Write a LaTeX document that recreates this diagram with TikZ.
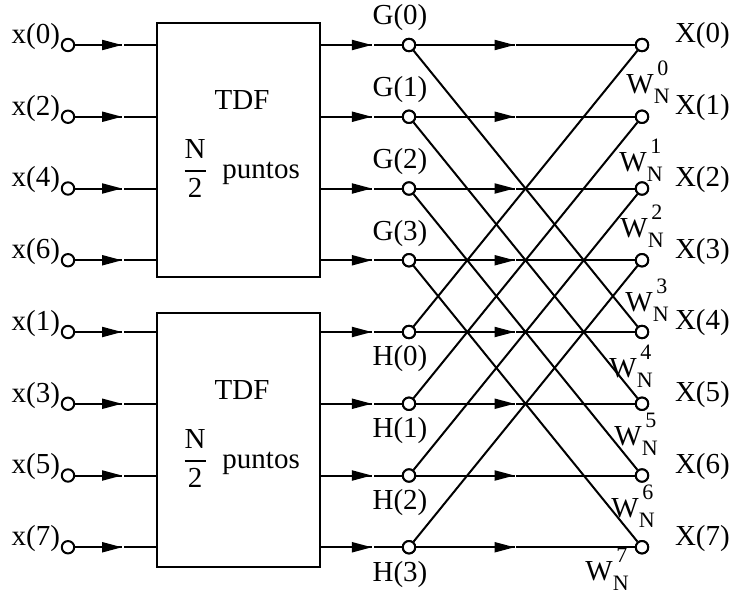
\documentclass[tikz,border=0pt]{standalone}
\usepackage{amsmath}
\usepackage{fontspec}
\setmainfont{Liberation Serif}
\usetikzlibrary{arrows.meta,decorations.markings}
\newcommand{\Wn}[1]{W\rlap{\raisebox{1.4ex}{\fontsize{11}{12}\selectfont\,#1}}\raisebox{-0.7ex}{\fontsize{11}{12}\selectfont N}}
\begin{document}
\begin{tikzpicture}[x=0.5pt,y=-0.5pt, line width=1pt,
  font=\fontsize{14.5}{17}\selectfont,
  dot/.style={circle,draw,fill=white,inner sep=0pt,minimum size=6.2pt},
  blk/.style={draw,minimum width=81.5pt,minimum height=127pt,inner sep=0pt},
  lbl/.style={inner sep=0pt},
  midarrow/.style={postaction={decorate},decoration={markings,
    mark=at position #1 with {\arrow{Triangle[length=10pt,width=5pt]}
      \fill[white] (0.3,-1.2) rectangle (1.6,1.2);}}}
]
\useasboundingbox (0,0) rectangle (737,594);
% blocks
\node[blk] (box1) at (238.5,150) {};
\node[blk] (box2) at (238.5,440) {};
\node[lbl] (t1) at (242,100) {TDF};
\node[lbl,anchor=base] (p1) at (241,178) {$\displaystyle\genfrac{}{}{0.8pt}{}{\hbox{N}}{\hbox{2}}$\enspace puntos};
\node[lbl] (t2) at (242,390) {TDF};
\node[lbl,anchor=base] (p2) at (241,468) {$\displaystyle\genfrac{}{}{0.8pt}{}{\hbox{N}}{\hbox{2}}$\enspace puntos};
% inputs and outputs
\foreach \i/\lab in {0/0,1/2,2/4,3/6,4/1,5/3,6/5,7/7} {
  \pgfmathsetmacro\yy{45+71.75*\i}
  \node[dot] (in\i) at (68,\yy) {};
  \node[lbl,anchor=east] (lin\i) at (61,\yy-8.5) {x(\lab)};
  \node[dot] (out\i) at (642,\yy) {};
  \node[lbl,anchor=west] (lout\i) at (674,\yy-9) {X(\i)};
}
% middle nodes
\foreach \i in {0,...,3} {
  \pgfmathsetmacro\yg{45+71.75*\i}
  \pgfmathsetmacro\yh{45+71.75*(\i+4)}
  \node[dot] (g\i) at (409,\yg) {};
  \node[lbl] (lg\i) at (400,\yg-27) {G(\i)};
  \node[dot] (h\i) at (409,\yh) {};
  \node[lbl] (lh\i) at (400,\yh+27) {H(\i)};
}
% connectors inputs -> blocks
\foreach \i in {0,...,3} {
  \draw[midarrow=0.58] (in\i) -- (in\i -| box1.west);
}
\foreach \i in {4,...,7} {
  \draw[midarrow=0.58] (in\i) -- (in\i -| box2.west);
}
% blocks -> middle nodes
\foreach \i in {0,...,3} {
  \draw[midarrow=0.63] (g\i -| box1.east) -- (g\i);
  \draw[midarrow=0.63] (h\i -| box2.east) -- (h\i);
}
% butterflies
\foreach \i in {0,...,3} {
  \pgfmathtruncatemacro\j{\i+4}
  \draw[midarrow=0.45] (g\i) -- (out\i);
  \draw[midarrow=0.45] (h\i) -- (out\j);
  \draw (g\i) -- (out\j);
  \draw (h\i) -- (out\i);
}
% redraw nodes on top
\foreach \i in {0,...,3} {
  \pgfmathtruncatemacro\j{\i+4}
  \node[dot] at (g\i) {};
  \node[dot] at (h\i) {};
  \node[dot] at (out\i) {};
  \node[dot] at (out\j) {};
}
% twiddle factors
\node[lbl] (w0) at (648,82) {\Wn{0}};
\node[lbl] (w1) at (641,160) {\Wn{1}};
\node[lbl] (w2) at (642,226) {\Wn{2}};
\node[lbl] (w3) at (647,300) {\Wn{3}};
\node[lbl] (w4) at (631,366) {\Wn{4}};
\node[lbl] (w5) at (636,434) {\Wn{5}};
\node[lbl] (w6) at (633,506) {\Wn{6}};
\node[lbl] (w7) at (607,569) {\Wn{7}};
\end{tikzpicture}
\end{document}
